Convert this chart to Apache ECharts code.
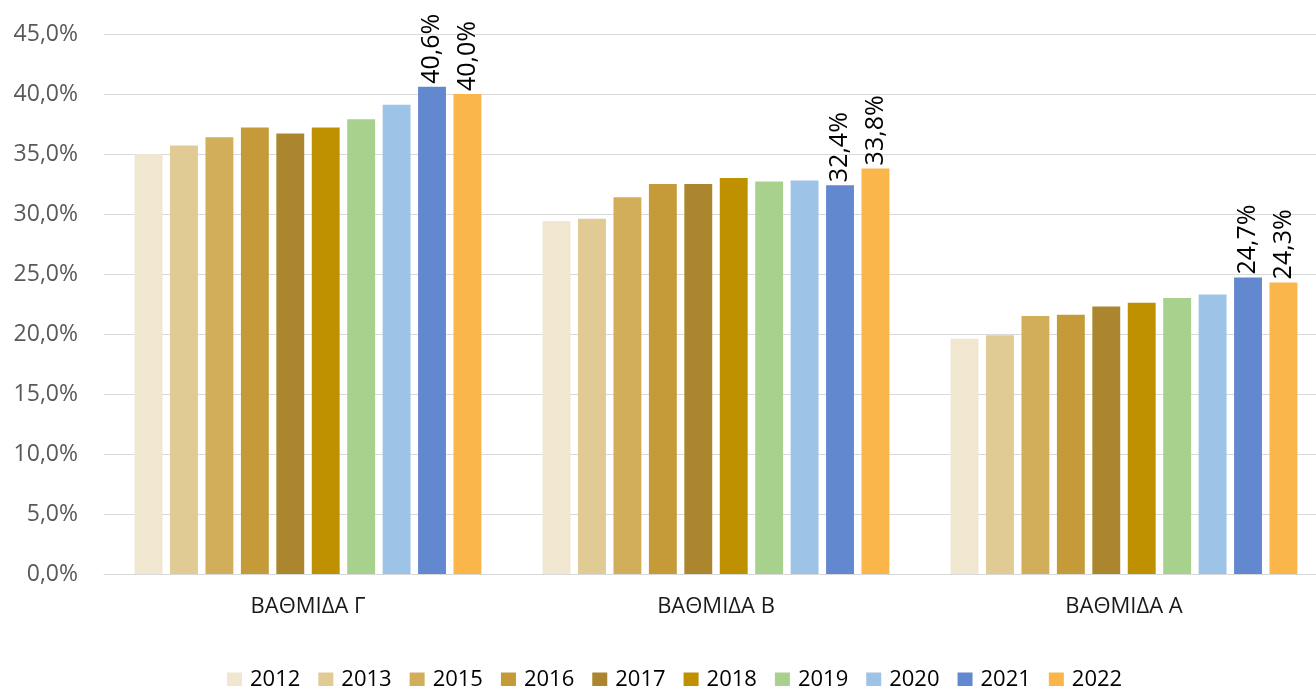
<!DOCTYPE html>
<html>
<head>
<meta charset="utf-8">
<script src="https://cdn.jsdelivr.net/npm/echarts@6/dist/echarts.min.js"></script>
<style>
  html, body { margin: 0; padding: 0; background: #fff; overflow: hidden; }
  #chart { width: 1328px; height: 686px; }
</style>
</head>
<body>
<div id="chart"></div>
<script>
// categories and years
var categories = ['ΒΑΘΜΙΔΑ Γ', 'ΒΑΘΜΙΔΑ Β', 'ΒΑΘΜΙΔΑ Α'];
var years = ['2012', '2013', '2015', '2016', '2017', '2018', '2019', '2020', '2021', '2022'];

// values per year, in order of categories
var v2012 = [35.0, 29.4, 19.6];
var v2013 = [35.7, 29.6, 19.9];
var v2015 = [36.4, 31.4, 21.5];
var v2016 = [37.2, 32.5, 21.6];
var v2017 = [36.7, 32.5, 22.3];
var v2018 = [37.2, 33.0, 22.6];
var v2019 = [37.9, 32.7, 23.0];
var v2020 = [39.1, 32.8, 23.3];
var v2021 = [40.6, 32.4, 24.7];
var v2022 = [40.0, 33.8, 24.3];

var yTicks = [0, 5, 10, 15, 20, 25, 30, 35, 40, 45];

var colors = ['#F1E6CF', '#E1CB94', '#D3AE5A', '#C59A38', '#AB862E',
              '#BF9000', '#A9D18E', '#9DC3E6', '#6289CF', '#FAB64B'];

var allValues = [v2012, v2013, v2015, v2016, v2017, v2018, v2019, v2020, v2021, v2022];
var labelled = ['2021', '2022'];

function fmt(v) {
    return v.toFixed(1).replace('.', ',') + '%';
}

var series = years.map(function (y, i) {
    return {
        name: y,
        type: 'bar',
        data: allValues[i],
        barGap: '27%',
        barCategoryGap: '15%',
        itemStyle: { color: colors[i] },
        label: {
            show: labelled.indexOf(y) >= 0,
            position: 'top',
            rotate: 90,
            align: 'left',
            verticalAlign: 'middle',
            distance: 3,
            color: '#000',
            fontSize: 25,
            fontFamily: 'Open Sans',
            formatter: function (p) { return fmt(p.value); }
        }
    };
});

// chart div is a bit wider than the window: the plot runs off the right edge
var chart = echarts.init(document.getElementById('chart'));
chart.setOption({
    animation: false,
    color: colors,
    grid: {
        left: 104,
        top: 34,
        right: 0,
        bottom: 112,
        containLabel: false
    },
    legend: {
        data: years,
        top: 664,
        left: 222,
        itemWidth: 15,
        itemHeight: 15,
        itemGap: 18,
        icon: 'rect',
        textStyle: { fontSize: 22, color: '#000', fontFamily: 'Open Sans', padding: [0, 0, 0, 3] }
    },
    xAxis: {
        type: 'category',
        data: categories,
        axisLine: { lineStyle: { color: '#D9D9D9', width: 1 } },
        axisTick: { show: false },
        axisLabel: { color: '#1a1a1a', fontSize: 22, margin: 22, fontFamily: 'Open Sans' }
    },
    yAxis: {
        type: 'value',
        min: yTicks[0],
        max: yTicks[yTicks.length - 1],
        interval: 5,
        axisLine: { show: false },
        axisTick: { show: false },
        splitLine: { lineStyle: { color: '#D9D9D9', width: 1 } },
        axisLabel: {
            color: '#595959',
            fontSize: 23,
            margin: 26,
            fontFamily: 'Open Sans',
            formatter: function (v) { return fmt(v); }
        }
    },
    series: series
});
</script>
</body>
</html>
